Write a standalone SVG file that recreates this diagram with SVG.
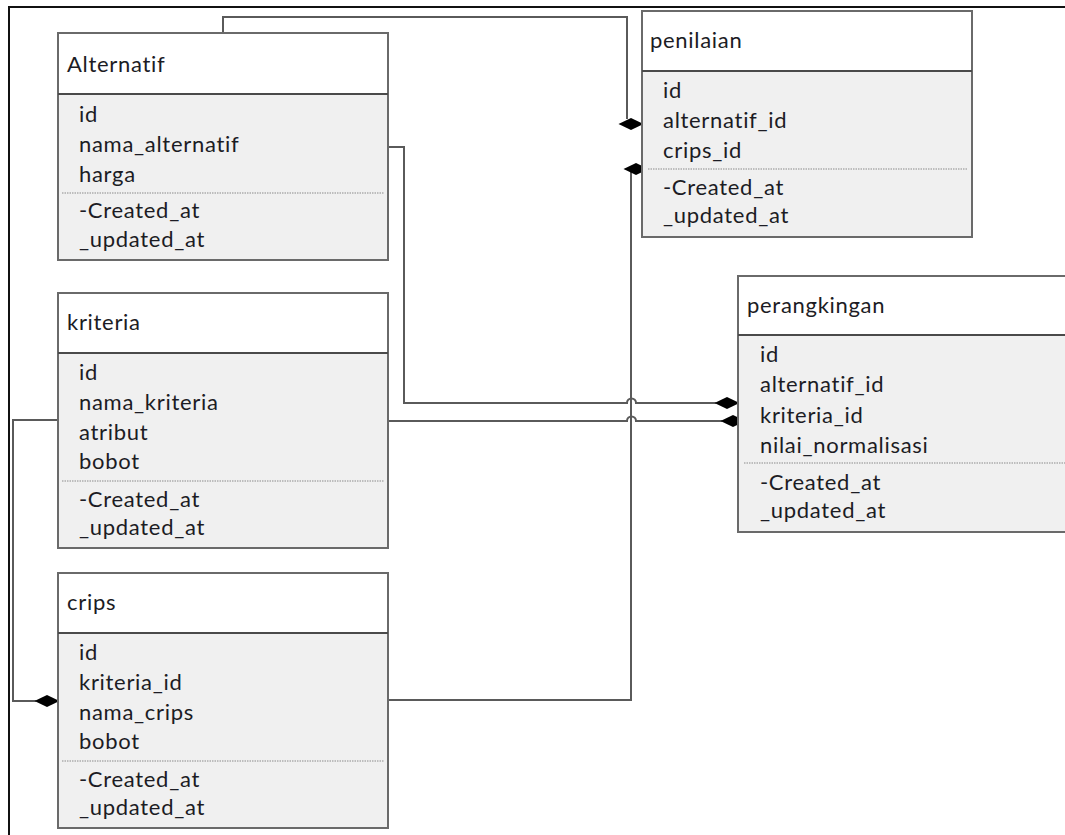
<svg xmlns="http://www.w3.org/2000/svg" xmlns:xlink="http://www.w3.org/1999/xlink" width="1065" height="835" viewBox="0 0 1065 835">
  <style>
    .body { fill: #f0f0f0; stroke: #6a6a6a; stroke-width: 2; }
    .head { fill: #ffffff; }
    .sep { stroke: #4a4a4a; stroke-width: 2; }
    .dash { stroke: #8a8a8a; stroke-width: 1.2; stroke-dasharray: 1.5 1; }
    .t { font-family: Lato, "Open Sans", sans-serif; font-size: 22px; letter-spacing: 0.7px; fill: #1c1c24; }
    .wire { fill: none; stroke: #5a5a5a; stroke-width: 2; }
    .frame { fill: none; stroke: #111; stroke-width: 2; }
  </style>
  <defs>
    <path id="dia" d="M-12.5 0 L0 -6 L12.5 0 L0 6 Z" fill="#000"/>
  </defs>
  <rect width="1065" height="835" fill="#fff"/>
  <path class="frame" d="M9 835 V7 H1065"/>

  <g id="connectors">
    <path class="wire" d="M223 33 V17 H627 V119"/>
    <use xlink:href="#dia" x="631" y="124"/>
    <path class="wire" d="M388 700 H631 V169"/>
    <use xlink:href="#dia" x="636" y="169"/>
    <path class="wire" d="M388 147 H404 V403 H627 A4.5 4.5 0 0 1 636 403 H716"/>
    <use xlink:href="#dia" x="727" y="403"/>
    <path class="wire" d="M388 421 H627 A4.5 4.5 0 0 1 636 421 H722"/>
    <use xlink:href="#dia" x="733" y="421"/>
    <path class="wire" d="M58 420 H13 V701 H36"/>
    <use xlink:href="#dia" x="47" y="701"/>
  </g>

  <g id="alternatif">
    <rect class="body" x="58" y="33" width="330" height="227"/>
    <rect class="head" x="59" y="34" width="328" height="60"/>
    <line class="sep" x1="58" y1="94" x2="388" y2="94"/>
    <line class="dash" x1="62" y1="193" x2="384" y2="193"/>
    <text class="t" x="67" y="72">Alternatif</text>
    <text class="t" x="79" y="122">id</text>
    <text class="t" x="79" y="152">nama_alternatif</text>
    <text class="t" x="79" y="182">harga</text>
    <text class="t" x="79" y="218">-Created_at</text>
    <text class="t" x="79" y="247">_updated_at</text>
  </g>

  <g id="kriteria">
    <rect class="body" x="58" y="293" width="330" height="255"/>
    <rect class="head" x="59" y="294" width="328" height="59"/>
    <line class="sep" x1="58" y1="353" x2="388" y2="353"/>
    <line class="dash" x1="62" y1="481" x2="384" y2="481"/>
    <text class="t" x="67" y="330">kriteria</text>
    <text class="t" x="79" y="380">id</text>
    <text class="t" x="79" y="410">nama_kriteria</text>
    <text class="t" x="79" y="440">atribut</text>
    <text class="t" x="79" y="469">bobot</text>
    <text class="t" x="79" y="507">-Created_at</text>
    <text class="t" x="79" y="535">_updated_at</text>
  </g>

  <g id="crips">
    <rect class="body" x="58" y="573" width="330" height="255"/>
    <rect class="head" x="59" y="574" width="328" height="59"/>
    <line class="sep" x1="58" y1="633" x2="388" y2="633"/>
    <line class="dash" x1="62" y1="761" x2="384" y2="761"/>
    <text class="t" x="67" y="610">crips</text>
    <text class="t" x="79" y="660">id</text>
    <text class="t" x="79" y="690">kriteria_id</text>
    <text class="t" x="79" y="720">nama_crips</text>
    <text class="t" x="79" y="749">bobot</text>
    <text class="t" x="79" y="787">-Created_at</text>
    <text class="t" x="79" y="815">_updated_at</text>
  </g>

  <g id="penilaian">
    <rect class="body" x="642" y="11" width="330" height="226"/>
    <rect class="head" x="643" y="12" width="328" height="59"/>
    <line class="sep" x1="642" y1="71" x2="972" y2="71"/>
    <line class="dash" x1="648" y1="169" x2="968" y2="169"/>
    <text class="t" x="650" y="48">penilaian</text>
    <text class="t" x="663" y="98">id</text>
    <text class="t" x="663" y="128">alternatif_id</text>
    <text class="t" x="663" y="158">crips_id</text>
    <text class="t" x="663" y="195">-Created_at</text>
    <text class="t" x="663" y="223">_updated_at</text>
  </g>

  <g id="perangkingan">
    <rect class="body" x="738" y="276" width="340" height="256"/>
    <rect class="head" x="739" y="277" width="340" height="58"/>
    <line class="sep" x1="738" y1="335" x2="1065" y2="335"/>
    <line class="dash" x1="744" y1="463" x2="1065" y2="463"/>
    <text class="t" x="747" y="313">perangkingan</text>
    <text class="t" x="760" y="362">id</text>
    <text class="t" x="760" y="392">alternatif_id</text>
    <text class="t" x="760" y="423">kriteria_id</text>
    <text class="t" x="760" y="453">nilai_normalisasi</text>
    <text class="t" x="760" y="490">-Created_at</text>
    <text class="t" x="760" y="518">_updated_at</text>
  </g>
</svg>
